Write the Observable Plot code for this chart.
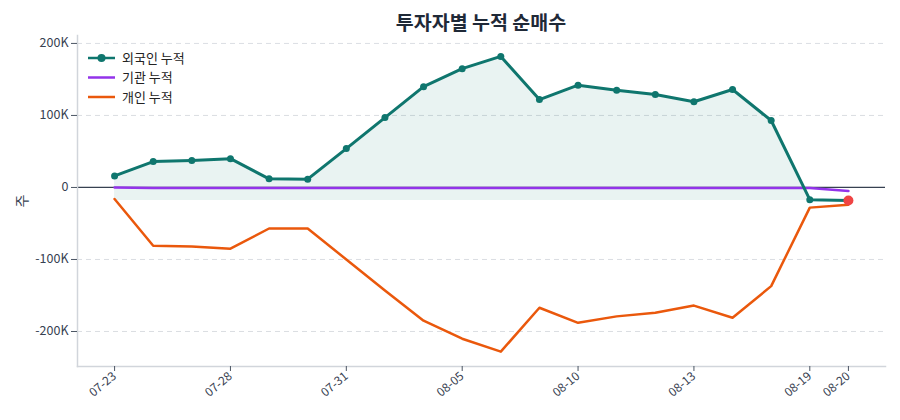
<!DOCTYPE html>
<html>
<head>
<meta charset="utf-8">
<script src="https://cdn.jsdelivr.net/npm/d3@7"></script>
<script src="https://cdn.jsdelivr.net/npm/@observablehq/plot@0.6"></script>
<style>
  body { margin: 0; background: #fff; font-family: "Noto Sans CJK KR", "Noto Sans", sans-serif; }
  #wrap { position: relative; width: 900px; height: 420px; }
  #title { position: absolute; left: 77px; width: 808px; top: 7px; text-align: center; font-size: 19.5px; font-weight: 700; color: #1f2937; }
  #chart { position: absolute; left: 0; top: 30px; }
  #legend { position: absolute; left: 80px; top: 45px; }
</style>
</head>
<body>
<div id="wrap">
  <div id="title">투자자별 누적 순매수</div>
  <div id="chart"></div>
  <div id="legend"></div>
</div>
<script>
const dates = ["07-23","07-24","07-25","07-28","07-29","07-30","07-31","08-01","08-04","08-05",
               "08-06","08-07","08-10","08-11","08-12","08-13","08-14","08-18","08-19","08-20"];
const foreign = [16000, 36000, 37500, 40000, 12000, 11500, 54000, 97000, 140000, 165000,
                 182000, 122000, 142000, 135000, 129000, 119000, 136000, 93000, -17000, -18000];
const institution = [0, -800, -900, -900, -900, -900, -900, -900, -900, -900,
                     -900, -900, -900, -900, -900, -900, -900, -900, -900, -5000];
const individual = [-16000, -81000, -82000, -85000, -57000, -57000, -100000, -143000, -185000, -210000,
                    -228000, -167000, -188000, -179000, -174000, -164000, -181000, -137000, -28000, -24000];
const tickIdx = [0, 3, 6, 9, 12, 15, 18, 19];
const yTicks = [-200000, -100000, 0, 100000, 200000];
const seriesNames = ["외국인 누적", "기관 누적", "개인 누적"];
const colors = ["#0f766e", "#9333ea", "#ea580c"];

const rows = dates.map((d, i) => ({i, date: d, f: foreign[i], inst: institution[i], ind: individual[i]}));
const minF = d3.min(foreign);
const last = rows[rows.length - 1];

const chart = Plot.plot({
  width: 900,
  height: 390,
  marginLeft: 77,
  marginRight: 15,
  marginTop: 5,
  marginBottom: 54,
  style: {fontFamily: "'Noto Sans CJK KR', 'Noto Sans', sans-serif", fontSize: "12px", color: "#374151"},
  x: {type: "linear", domain: [-0.96, 19.96]},
  y: {domain: [-248600, 211000]},
  marks: [
    Plot.gridY(yTicks.filter(t => t !== 0), {stroke: "#d1d5db", strokeOpacity: 0.8, strokeDasharray: "5,4"}),
    Plot.areaY(rows, {x: "i", y1: minF, y2: "f", fill: "#0f766e", fillOpacity: 0.09}),
    Plot.ruleY([0], {stroke: "#374151", strokeWidth: 1.2}),
    Plot.frame({anchor: "left", stroke: "#d1d5db", strokeWidth: 1.5}),
    Plot.frame({anchor: "bottom", stroke: "#d1d5db", strokeWidth: 1.5}),
    Plot.axisY(yTicks, {tickSize: 6, tickPadding: 3, stroke: "#4b5563", fill: "#374151",
      tickFormat: d => d === 0 ? "0" : (d / 1000) + "K", fontSize: 12.5, label: null}),
    Plot.axisY(yTicks, {tickSize: 0, tickFormat: () => "", label: "주", labelAnchor: "center",
      labelArrow: "none", labelOffset: 60, fontSize: 14, fill: "#374151"}),
    Plot.axisX(tickIdx, {tickSize: 5, stroke: "#4b5563", fill: "#374151", tickRotate: -40, fontSize: 12,
      tickFormat: i => dates[i], label: null, tickPadding: 3}),
    Plot.line(rows, {x: "i", y: "inst", stroke: colors[1], strokeWidth: 2.5}),
    Plot.line(rows, {x: "i", y: "ind", stroke: colors[2], strokeWidth: 2.5}),
    Plot.line(rows, {x: "i", y: "f", stroke: colors[0], strokeWidth: 3}),
    Plot.dot(rows, {x: "i", y: "f", fill: colors[0], r: 3.5}),
    Plot.dot([last], {x: "i", y: "f", fill: "#ef4444", r: 5})
  ]
});
document.getElementById("chart").appendChild(chart);

// legend (offset: left 80, top 45 in page)
const lg = d3.select("#legend").append("svg").attr("width", 140).attr("height", 66)
  .style("font-family", "'Noto Sans CJK KR', 'Noto Sans', sans-serif");
seriesNames.forEach((name, k) => {
  const cy = 13 + k * 19.5;
  lg.append("line").attr("x1", 8).attr("x2", 35).attr("y1", cy).attr("y2", cy)
    .attr("stroke", colors[k]).attr("stroke-width", 2.5);
  if (k === 0) lg.append("circle").attr("cx", 21.5).attr("cy", cy).attr("r", 4).attr("fill", colors[k]);
  lg.append("text").attr("x", 42).attr("y", cy).attr("dy", "0.35em")
    .attr("font-size", 13).attr("fill", "#222").text(name);
});
</script>
</body>
</html>
